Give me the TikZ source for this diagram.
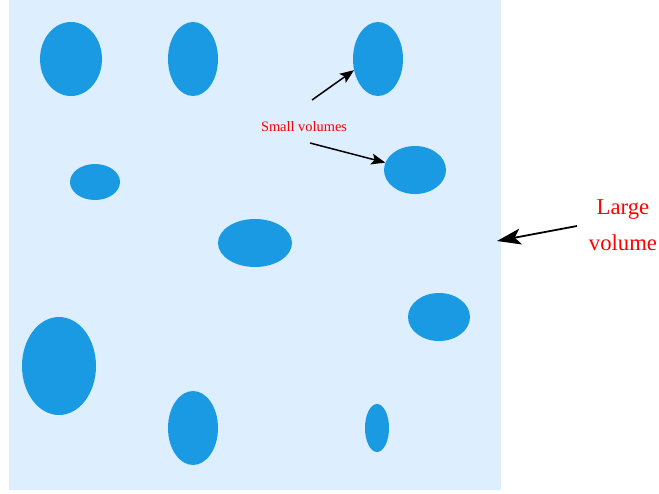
\documentclass[tikz,border=0pt]{standalone}
\usepackage{fontspec}
\setmainfont{Liberation Serif}
\usetikzlibrary{shapes.geometric,arrows.meta}
\definecolor{bgblue}{HTML}{DDEEFF}
\definecolor{dropblue}{HTML}{1B9AE4}
\definecolor{lblred}{HTML}{FF0000}
\tikzset{
  drop/.style={ellipse,fill=dropblue,draw=none,inner sep=0pt},
  lbl/.style={text=lblred,inner sep=0pt,align=center},
  pointer/.style={draw=black,line width=1.5pt,-{Stealth[length=14pt,width=11pt,inset=3pt]}},
  bigpointer/.style={draw=black,line width=1.8pt,-{Stealth[length=24pt,width=16pt,inset=6pt]}}
}
\begin{document}
\begin{tikzpicture}[x=1pt,y=-1pt]
\useasboundingbox (0,0) rectangle (659,493);
\node[fill=bgblue,draw=none,minimum width=492pt,minimum height=490pt,inner sep=0pt,anchor=north west] (large) at (9,0) {};
\node[drop,minimum width=62pt,minimum height=74pt] (e1) at (71,59) {};
\node[drop,minimum width=50pt,minimum height=74pt] (e2) at (193,59) {};
\node[drop,minimum width=50pt,minimum height=74pt] (e3) at (378,59) {};
\node[drop,minimum width=50pt,minimum height=36pt] (e4) at (95,182) {};
\node[drop,minimum width=62pt,minimum height=48pt] (e5) at (415,170) {};
\node[drop,minimum width=74pt,minimum height=48pt] (e6) at (255,243) {};
\node[drop,minimum width=62pt,minimum height=48pt] (e7) at (439,317) {};
\node[drop,minimum width=74pt,minimum height=98pt] (e8) at (59,366) {};
\node[drop,minimum width=50pt,minimum height=74pt] (e9) at (193,428) {};
\node[drop,minimum width=24pt,minimum height=48pt] (e10) at (377,428) {};
\node[lbl,font=\fontsize{14.4}{17}\selectfont] (small) at (304,127) {Small volumes};
\node[lbl,font=\fontsize{22.7}{36}\selectfont] (largelbl) at (623,225) {Large\\volume};
\coordinate (s1) at (312,100);
\coordinate (s2) at (310,143);
\coordinate (l1) at (577,226);
\coordinate (l2) at (497,241);
\draw[pointer] (s1) -- (e3.205);
\draw[pointer] (s2) -- (e5.166);
\draw[bigpointer] (l1) -- (l2);
\end{tikzpicture}
\end{document}
